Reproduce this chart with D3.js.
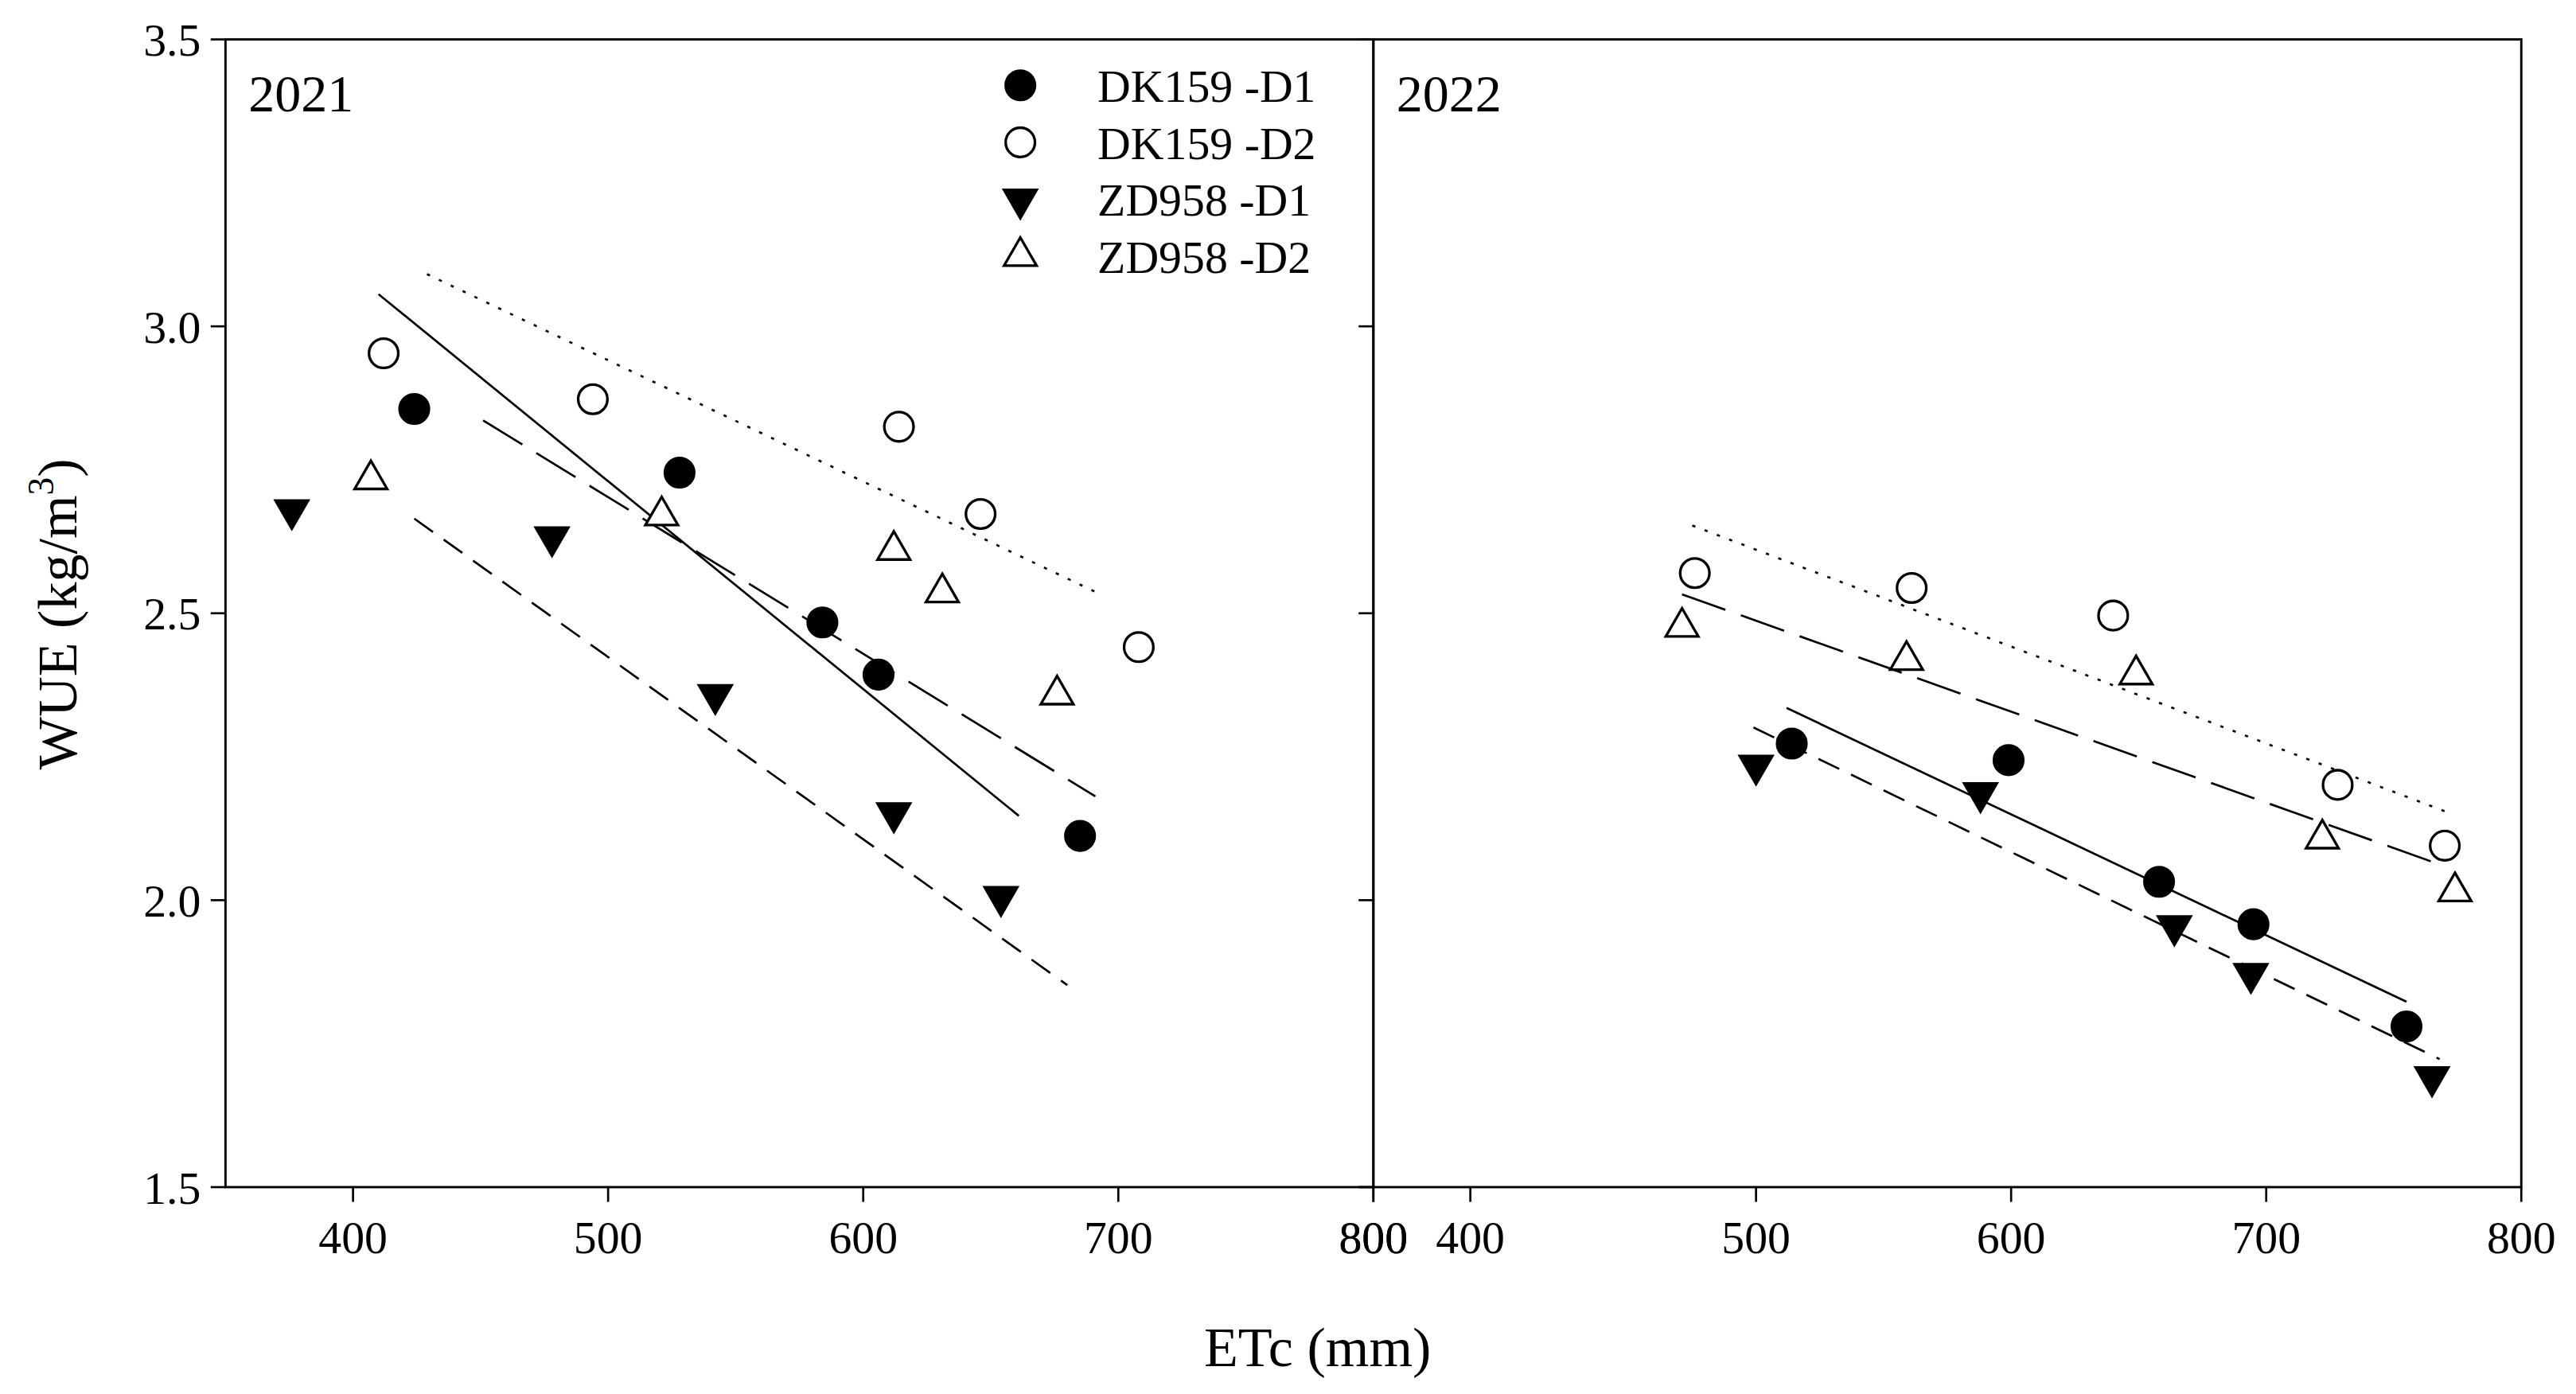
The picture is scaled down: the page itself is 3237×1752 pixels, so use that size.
<!DOCTYPE html>
<html><head><meta charset="utf-8">
<script src="https://cdn.jsdelivr.net/npm/d3@7"></script>
<style>body{margin:0;background:#fff}</style></head>
<body><svg id="c"></svg>
<script>
const seriesNames = ["DK159 -D1","DK159 -D2","ZD958 -D1","ZD958 -D2"];
const years = ["2021","2022"];
// [year][series] -> points [ETc, WUE]
const pts2021 = [
 [[424,2.856],[528,2.745],[584,2.484],[606,2.393],[685,2.112]],
 [[412,2.953],[494,2.873],[614,2.825],[646,2.673],[708,2.441]],
 [[376,2.68],[478,2.633],[542,2.358],[612,2.152],[654,2.006]],
 [[407,2.733],[521,2.67],[612,2.61],[631,2.536],[676,2.358]]
];
const pts2022 = [
 [[514,2.273],[599,2.244],[658,2.032],[695,1.958],[755,1.78]],
 [[476,2.57],[561,2.544],[640,2.496],[728,2.201],[770,2.095]],
 [[500,2.235],[588,2.187],[664,1.955],[694,1.872],[765,1.692]],
 [[471,2.476],[559,2.418],[649,2.393],[722,2.107],[774,2.015]]
];
// regression line endpoints [x1,y1,x2,y2]
const fit2021 = [[410,3.056,661,2.147],[429,3.091,693,2.533],[424,2.665,680,1.852],[451,2.836,691,2.181]];
const fit2022 = [[512,2.335,755,1.823],[475,2.653,770,2.155],[499,2.301,768,1.723],[471,2.533,765,2.067]];
const yTicks = [1.5,2.0,2.5,3.0,3.5];
const xTicksLeft = [400,500,600,700,800];
const xTicksRight = [[350,"800"],[388,"400"],[500,"500"],[600,"600"],[700,"700"],[800,"800"]];

const svg = d3.select("#c").attr("width",3237).attr("height",1752).attr("viewBox","0 0 1568 849");
const font = "'Liberation Serif','Times New Roman',serif";
const y = d3.scaleLinear().domain([1.5,3.5]).range([723,24]);
const panels = [
 {x: d3.scaleLinear().domain([350,800]).range([137,836]), pts: pts2021, fit: fit2021, year: years[0]},
 {x: d3.scaleLinear().domain([350,800]).range([836,1535]), pts: pts2022, fit: fit2022, year: years[1]}
];
const dashes = [null,"2,6","14,8","28,10"];
const sym = [d3.symbolCircle,d3.symbolCircle,d3.symbolTriangle,d3.symbolTriangle];
const fills = ["#000","#fff","#000","#fff"];
const rot = [0,0,180,0];
function marker(g,i,cx,cy){
  const s = i<2 ? 250 : 170;
  g.append("path").attr("d",d3.symbol().type(sym[i]).size(s)())
   .attr("transform",`translate(${cx},${cy}) rotate(${rot[i]})`)
   .attr("fill",fills[i]).attr("stroke","#000").attr("stroke-width",1.6);
}
panels.forEach((p,pi)=>{
  const g = svg.append("g");
  g.append("rect").attr("x",p.x.range()[0]).attr("y",24).attr("width",699).attr("height",699)
   .attr("fill","none").attr("stroke","#000").attr("stroke-width",1.4);
  p.fit.forEach((f,i)=>{
    g.append("line").attr("x1",p.x(f[0])).attr("y1",y(f[1])).attr("x2",p.x(f[2])).attr("y2",y(f[3]))
     .attr("stroke","#000").attr("stroke-width",1.3).attr("stroke-dasharray",dashes[i]);
  });
  p.pts.forEach((s,i)=>s.forEach(d=>marker(g,i,p.x(d[0]),y(d[1]))));
  g.append("text").attr("x",p.x.range()[0]+14).attr("y",68).text(p.year)
   .attr("font-family",font).attr("font-size",32);
  // y ticks
  yTicks.forEach(t=>{
    g.append("line").attr("x1",p.x.range()[0]).attr("x2",p.x.range()[0]-9).attr("y1",y(t)).attr("y2",y(t)).attr("stroke","#000").attr("stroke-width",1.3);
  });
  const xt = pi===0 ? xTicksLeft.map(v=>[v,String(v)]) : xTicksRight;
  xt.forEach(([v,l])=>{
    g.append("line").attr("x1",p.x(v)).attr("x2",p.x(v)).attr("y1",723).attr("y2",732).attr("stroke","#000").attr("stroke-width",1.3);
    g.append("text").attr("x",p.x(v)).attr("y",763).attr("text-anchor","middle").text(l)
     .attr("font-family",font).attr("font-size",28);
  });
});
yTicks.forEach(t=>{
  svg.append("text").attr("x",122).attr("y",y(t)+10).attr("text-anchor","end").text(t.toFixed(1))
   .attr("font-family",font).attr("font-size",28);
});
// legend
seriesNames.forEach((n,i)=>{
  marker(svg,i,621,52+i*34.7);
  svg.append("text").attr("x",668).attr("y",62+i*34.7).text(n).attr("font-family",font).attr("font-size",28);
});
svg.append("text").attr("x",802).attr("y",832).attr("text-anchor","middle").text("ETc (mm)")
  .attr("font-family",font).attr("font-size",34);
const yt = svg.append("text").attr("transform","translate(46,374) rotate(-90)").attr("text-anchor","middle")
  .attr("font-family",font).attr("font-size",34);
yt.append("tspan").text("WUE (kg/m");
yt.append("tspan").text("3").attr("font-size",22).attr("dy",-14);
yt.append("tspan").text(")").attr("dy",14);
</script></body></html>
